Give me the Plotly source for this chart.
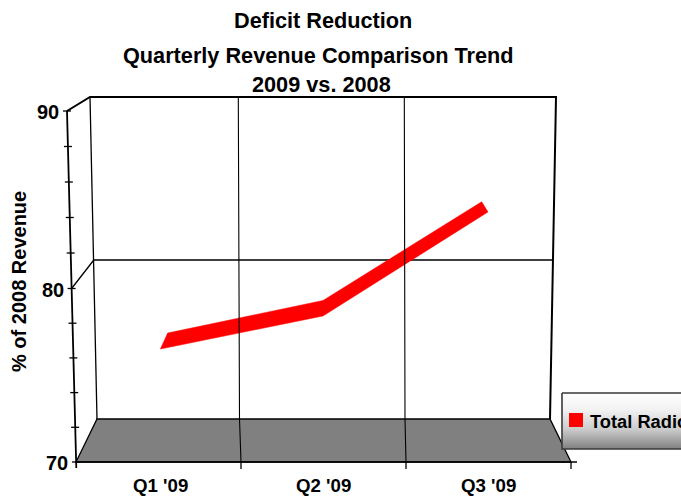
import numpy as np
import plotly.graph_objects as go

# ---------------------------------------------------------------- data
TITLE_LINES = ["Deficit Reduction", "Quarterly Revenue Comparison Trend", "2009 vs. 2008"]
CATEGORIES = ["Q1 '09", "Q2 '09", "Q3 '09"]
VALUES = [76.0, 78.0, 84.0]
SERIES_NAME = "Total Radio"
Y_TITLE = "% of 2008 Revenue"
Y_TICK_LABELS = [70, 80, 90]
Y_MINOR_TICKS = [70, 72, 74, 76, 78, 80, 82, 84, 86, 88, 90]
Y_GRID = [80]

# ---------------------------------------------------------------- page / 3-D box geometry (pixels)
W, H = 681, 498
FONT = "Liberation Sans, Arial, sans-serif"

# plane in which the series ribbon sits (mid depth)
SER_X0, SER_DX = 164.0, 160.5      # pixel x of first category, pixels per category
SER_REF, SER_Y_REF, SER_DY = 80.0, 274.0, 16.75   # value, its pixel y, pixels per unit

# wall corners
BACK_TL, BACK_TR = (90.0, 97.0), (556.0, 97.0)
BACK_BL, BACK_BR = (97.0, 419.0), (550.0, 419.0)
FRONT_TL, FRONT_BL, FRONT_BR = (67.0, 111.0), (76.0, 462.0), (571.0, 462.0)

# value -> pixel on the front axis and on the back wall (slight perspective)
ANCHOR_V = [70, 80, 90]
FRONT_Y = [462.0, 288.5, 111.0]
FRONT_X = [76.0, 71.6, 67.0]
BACK_Y = [419.0, 260.0, 97.0]
BACK_X = [97.0, 93.8, 90.0]

# category boundary gridlines: x at back-top, back-bottom, front-bottom
V_GRID_X = [(238.3, 239.5, 241.0), (404.3, 405.0, 406.0)]
CAT_LABEL_X = [160.0, 323.0, 488.0]

# ribbon outline offsets around each point, pixels (top edge then bottom edge)
RIB_TOP = [(3.7, -8.0), (-1.5, -7.0), (-3.3, -5.3)]
RIB_BOT = [(-3.6, 8.0), (-1.5, 8.5), (3.0, 5.0)]


def px(x):
    return x / W


def py(y):
    return 1 - y / H


def path(points, close=False):
    s = "M " + " L ".join(f"{px(x):.5f},{py(y):.5f}" for x, y in points)
    return s + (" Z" if close else "")


def fy(v):
    return float(np.interp(v, ANCHOR_V, FRONT_Y))


def fx(v):
    return float(np.interp(v, ANCHOR_V, FRONT_X))


def by(v):
    return float(np.interp(v, ANCHOR_V, BACK_Y))


def bx(v):
    return float(np.interp(v, ANCHOR_V, BACK_X))


# data axes cover the whole page
x_range = [(0 - SER_X0) / SER_DX, (W - SER_X0) / SER_DX]
y_range = [SER_REF - (H - SER_Y_REF) / SER_DY, SER_REF + SER_Y_REF / SER_DY]


def data_x(pxl):
    return (pxl - SER_X0) / SER_DX


def data_y(pyl):
    return SER_REF - (pyl - SER_Y_REF) / SER_DY


shapes = []
line_k = dict(color="black", width=1.3)

# back wall
shapes.append(dict(type="path", path=path([BACK_TL, BACK_TR, BACK_BR, BACK_BL], True),
                   xref="paper", yref="paper", fillcolor="white",
                   line=dict(width=0), layer="below"))
# floor
shapes.append(dict(type="path", path=path([BACK_BL, BACK_BR, FRONT_BR, FRONT_BL], True),
                   xref="paper", yref="paper", fillcolor="#808080",
                   line=dict(color="black", width=1.3), layer="below"))
# horizontal gridlines: left wall diagonal + back wall
for v in Y_GRID:
    shapes.append(dict(type="path", path=path([(fx(v), fy(v)), (bx(v), by(v)), (BACK_TR[0] - 4, by(v))]),
                       xref="paper", yref="paper", line=line_k, layer="below"))
# wall edges
shapes.append(dict(type="path", path=path([FRONT_TL, BACK_TL, BACK_TR, BACK_BR]),
                   xref="paper", yref="paper", line=dict(color="black", width=2), layer="below"))
shapes.append(dict(type="path", path=path([BACK_TL, BACK_BL]),
                   xref="paper", yref="paper", line=line_k, layer="below"))
# front value axis
shapes.append(dict(type="path", path=path([FRONT_TL, (FRONT_BL[0] + 0.3, FRONT_BL[1] + 6)]),
                   xref="paper", yref="paper", line=dict(color="black", width=1.8), layer="above"))
for v in Y_MINOR_TICKS:
    shapes.append(dict(type="line", x0=px(fx(v) - 4), x1=px(fx(v) + 4), y0=py(fy(v)), y1=py(fy(v)),
                       xref="paper", yref="paper", line=dict(color="black", width=1.3)))
# front category axis line with ticks
shapes.append(dict(type="line", x0=px(FRONT_BL[0]), x1=px(FRONT_BR[0] + 6), y0=py(FRONT_BL[1]),
                   y1=py(FRONT_BL[1]), xref="paper", yref="paper", line=dict(color="black", width=1.5)))
for xb in [g[2] for g in V_GRID_X] + [FRONT_BR[0]]:
    shapes.append(dict(type="line", x0=px(xb), x1=px(xb), y0=py(FRONT_BL[1]), y1=py(FRONT_BL[1] + 7),
                       xref="paper", yref="paper", line=dict(color="black", width=1.3)))
# category boundary gridlines (back wall and floor)
for xt, xm, xf in V_GRID_X:
    shapes.append(dict(type="path", path=path([(xt, BACK_TL[1]), (xm, BACK_BL[1]), (xf, FRONT_BL[1])]),
                       xref="paper", yref="paper", line=dict(color="black", width=1.1), layer="above"))

fig = go.Figure()

# series ribbon built from the values
cx = list(range(len(VALUES)))
top_x = [i + dx / SER_DX for i, (dx, dy) in zip(cx, RIB_TOP)]
top_y = [v - dy / SER_DY for v, (dx, dy) in zip(VALUES, RIB_TOP)]
bot_x = [i + dx / SER_DX for i, (dx, dy) in zip(cx, RIB_BOT)]
bot_y = [v - dy / SER_DY for v, (dx, dy) in zip(VALUES, RIB_BOT)]
fig.add_trace(go.Scatter(
    x=top_x + bot_x[::-1] + [top_x[0]],
    y=top_y + bot_y[::-1] + [top_y[0]],
    mode="lines", fill="toself", fillcolor="#ff0000",
    line=dict(color="#ff0000", width=0.5), hoverinfo="skip", name=SERIES_NAME,
))

# legend box with a vertical gradient
LEG_L, LEG_T, LEG_R, LEG_B = 562.0, 393.0, 700.0, 449.0
lx = [data_x(LEG_L), data_x(LEG_R), data_x(LEG_R), data_x(LEG_L), data_x(LEG_L)]
ly = [data_y(LEG_T), data_y(LEG_T), data_y(LEG_B), data_y(LEG_B), data_y(LEG_T)]
fig.add_trace(go.Scatter(
    x=lx, y=ly, mode="lines", fill="toself",
    fillgradient=dict(type="vertical", start=data_y(LEG_B), stop=data_y(LEG_T),
                      colorscale=[[0, "#808080"], [0.35, "#cbcbcb"], [0.7, "#f2f2f2"], [1, "#ffffff"]]),
    line=dict(color="#3a3a3a", width=1.6), hoverinfo="skip", showlegend=False,
))
shapes.append(dict(type="rect", x0=px(569), x1=px(583), y0=py(413), y1=py(427),
                   xref="paper", yref="paper", fillcolor="#ff0000", line=dict(width=0), layer="above"))

annotations = []
title_pos = [(323, 20.5), (318, 55.0), (321.5, 84.0)]
for text, (tx, ty) in zip(TITLE_LINES, title_pos):
    annotations.append(dict(text=f"<b>{text}</b>", x=px(tx), y=py(ty), xref="paper", yref="paper",
                            xanchor="center", yanchor="middle", showarrow=False,
                            font=dict(family=FONT, size=21.7, color="black")))
for v in Y_TICK_LABELS:
    annotations.append(dict(text=f"<b>{v}</b>", x=px(fx(v) - 6), y=py(fy(v) + 1), xref="paper", yref="paper",
                            xanchor="right", yanchor="middle", showarrow=False,
                            font=dict(family=FONT, size=20, color="black")))
for lab, lxp in zip(CATEGORIES, CAT_LABEL_X):
    annotations.append(dict(text=f"<b>{lab}</b>", x=px(lxp), y=py(485), xref="paper", yref="paper",
                            xanchor="center", yanchor="middle", showarrow=False,
                            font=dict(family=FONT, size=18.7, color="black")))
annotations.append(dict(text=f"<b>{Y_TITLE}</b>", x=px(19), y=py(282), xref="paper", yref="paper",
                        xanchor="center", yanchor="middle", textangle=-90, showarrow=False,
                        font=dict(family=FONT, size=20, color="black")))
annotations.append(dict(text=f"<b>{SERIES_NAME}</b>", x=px(588), y=py(421), xref="paper", yref="paper",
                        xanchor="left", yanchor="middle", showarrow=False,
                        font=dict(family=FONT, size=18.3, color="black")))

fig.update_layout(
    width=W, height=H, margin=dict(l=0, r=0, t=0, b=0),
    paper_bgcolor="white", plot_bgcolor="white", showlegend=False,
    xaxis=dict(range=x_range, visible=False, fixedrange=True),
    yaxis=dict(range=y_range, visible=False, fixedrange=True),
    shapes=shapes, annotations=annotations,
)

fig.write_html("out.html")
